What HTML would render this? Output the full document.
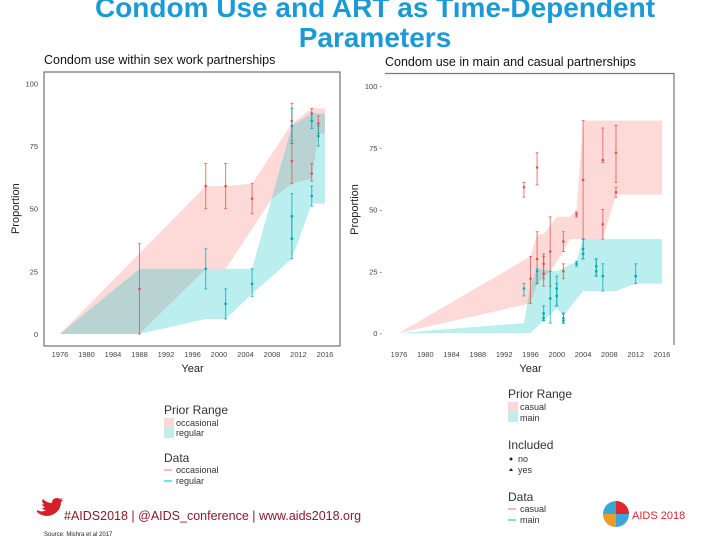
<!DOCTYPE html>
<html><head><meta charset="utf-8"><style>
body{margin:0;width:720px;height:540px;overflow:hidden;background:#fff;font-family:"Liberation Sans",sans-serif}
svg{position:absolute;left:0;top:0}
</style></head><body>
<svg id="s" width="720" height="540">
<text x="375" y="17" text-anchor="middle" font-size="28" font-weight="bold" fill="#1b9ad6">Condom Use and ART as Time-Dependent</text>
<text x="375" y="47" text-anchor="middle" font-size="28" font-weight="bold" fill="#1b9ad6">Parameters</text>
<text x="44" y="64" font-size="12.5" fill="#111">Condom use within sex work partnerships</text>
<text x="385" y="66" font-size="12.5" fill="#111">Condom use in main and casual partnerships</text>
<g id="L"></g>
<g id="R"></g>
<g font-size="9" fill="#333">
<text x="164" y="414" font-size="12">Prior Range</text>
<rect x="164" y="418" width="10" height="10" fill="#fadad8"/><text x="176" y="426">occasional</text>
<rect x="164" y="428" width="10" height="10" fill="#c2ecec"/><text x="176" y="436">regular</text>
<text x="164" y="462" font-size="12">Data</text>
<line x1="164" y1="470" x2="172" y2="470" stroke="#F8766D"/><text x="176" y="473">occasional</text>
<line x1="164" y1="481" x2="172" y2="481" stroke="#00BFC4"/><text x="176" y="484">regular</text>
</g>
<g font-size="9" fill="#333">
<text x="508" y="398" font-size="12">Prior Range</text>
<rect x="508" y="402" width="10" height="10" fill="#fadad8"/><text x="520" y="410">casual</text>
<rect x="508" y="412" width="10" height="10" fill="#c2ecec"/><text x="520" y="421">main</text>
<text x="508" y="449" font-size="12">Included</text>
<circle cx="511" cy="459" r="1.5" fill="#222"/><text x="518" y="462">no</text>
<path d="M509 471 L511 468 L513 471Z" fill="#222"/><text x="518" y="473">yes</text>
<text x="508" y="501" font-size="12">Data</text>
<line x1="508" y1="509" x2="516" y2="509" stroke="#F8766D"/><text x="520" y="512">casual</text>
<line x1="508" y1="520" x2="516" y2="520" stroke="#00BFC4"/><text x="520" y="523">main</text>
</g>
<path d="M37 510 q5 3 9 0 q-3 0 -4 -2 q2 0 3 -1 q-3 -1 -3 -3 q1 1 2 0 q-3 -2 -1 -5 q4 4 9 4 q0 -5 5 -5 q2 0 3 1 l3 -1 l-2 2 l2 0 l-2 2 q0 9 -9 13 q-8 3 -15 -3z" fill="#d42027"/>
<text x="64" y="520" font-size="12.5" fill="#8b1a2b">#AIDS2018 | @AIDS_conference | www.aids2018.org</text>
<text x="44" y="536" font-size="6" fill="#222">Source: Mishra et al 2017</text>
<g>
<circle cx="616" cy="514" r="13" fill="#3aa7d8"/><path d="M616 501 a13 13 0 0 1 13 13 l-13 0z" fill="#e2262d"/><path d="M603 514 a13 13 0 0 0 13 13 l0 -13z" fill="#f19a2a"/>
<text x="632" y="519" font-size="11" fill="#d7262e">AIDS 2018</text></g>
</svg>
<script>
const NS="http://www.w3.org/2000/svg";
const ticksX=[1976,1980,1984,1988,1992,1996,2000,2004,2008,2012,2016];
const ticksY=[0,25,50,75,100];
// Left chart data
const lOccUpYears=[1976,1998,2001,2005,2011,2014,2016];
const lOccUpVals=[0,59,59,60,84,90,90];
const lOccLoYears=[1976,1988,1998,2001,2008,2011,2014,2015,2016];
const lOccLoVals=[0,0,26,26,54,60,62,80,80];
const lRegUpYears=[1976,1988,2005,2011,2014,2016];
const lRegUpVals=[0,26,26,83,88,88];
const lRegLoYears=[1976,1988,1998,2001,2005,2011,2014,2016];
const lRegLoVals=[0,0,6,6,16,30,52,52];
const lOccPtYears=[1988,1998,2001,2005,2011,2011,2014,2014,2015];
const lOccPtVals=[18,59,59,54,85,69,88,64,84];
const lOccPtLo=[0,50,50,48,77,60,85,61,80];
const lOccPtHi=[36,68,68,60,92,76,90,68,87];
const lRegPtYears=[1998,2001,2005,2011,2011,2011,2014,2014,2015];
const lRegPtVals=[26,12,20,47,38,83,85,55,79];
const lRegPtLo=[18,6,15,38,30,76,82,51,75];
const lRegPtHi=[34,18,26,56,47,90,88,59,83];
// Right chart data
const rCasUpYears=[1976,1996,1997,1998,2000,2002,2003,2004,2016];
const rCasUpVals=[0,31,40,40,47,47,50,86,86];
const rCasLoYears=[1976,1996,1997,1999,2001,2002,2007,2009,2016];
const rCasLoVals=[0,12,20,25,33,38,38,56,56];
const rMainUpYears=[1976,1995,1996,1997,2000,2003,2004,2016];
const rMainUpVals=[0,4,20,26,25,29,38,38];
const rMainLoYears=[1976,1995,1996,2000,2001,2004,2009,2012,2016];
const rMainLoVals=[0,0,0,10,7,17,17,20,20];
const rCasPtYears=[1995,1997,1996,1997,1998,1998,1999,2001,2001,2003,2004,2007,2007,2009,2009];
const rCasPtVals=[59,67,22,30,28,24,33,37,25,48,62,70,44,73,57];
const rCasPtLo=[55,60,12,20,22,19,19,33,22,47,38,69,38,61,55];
const rCasPtHi=[61,73,31,41,32,31,47,41,28,49,86,83,50,84,59];
const rMainPtYears=[1995,1997,1998,1998,1999,2000,2000,2001,2001,2003,2004,2004,2006,2006,2007,2012];
const rMainPtVals=[18,25,8,6,14,18,15,5,6,28,34,32,27,25,23,23];
const rMainPtLo=[15,20,5,5,4,11,11,4,4,27,30,30,23,23,17,20];
const rMainPtHi=[20,26,11,8,25,23,20,8,8,29,38,38,30,30,28,28];

function mk(tag,attrs,parent){const e=document.createElementNS(NS,tag);for(const k in attrs)e.setAttribute(k,attrs[k]);parent.appendChild(e);return e;}
function chart(g,cfg){
  const sx=v=>cfg.x0+(v-1976)*(cfg.x1-cfg.x0)/40;
  const sy=v=>cfg.y0-v*(cfg.y0-cfg.y100)/100;
  cfg.frame(g);
  function band(uy,uv,ly,lv,color,name){
    let d="M"+uy.map((y,i)=>sx(y)+" "+sy(uv[i])).join(" L");
    for(let i=ly.length-1;i>=0;i--)d+=" L"+sx(ly[i])+" "+sy(lv[i]);
    const p=mk("path",{d:d+"Z",fill:color,"fill-opacity":0.27},g);
    
    
  }
  band(cfg.b1[0],cfg.b1[1],cfg.b1[2],cfg.b1[3],"#F8766D",cfg.b1n);
  band(cfg.b2[0],cfg.b2[1],cfg.b2[2],cfg.b2[3],"#00BFC4",cfg.b2n);
  function pts(ys,vs,lo,hi,color,name){
    ys.forEach((y,i)=>{
      const x=sx(y);
      const e=mk("g",{stroke:color,"stroke-width":1,"stroke-opacity":0.75},g);
      
      
      mk("line",{x1:x,x2:x,y1:sy(lo[i]),y2:sy(hi[i])},e);
      mk("line",{x1:x-1.5,x2:x+1.5,y1:sy(lo[i]),y2:sy(lo[i])},e);
      mk("line",{x1:x-1.5,x2:x+1.5,y1:sy(hi[i]),y2:sy(hi[i])},e);
      mk("circle",{cx:x,cy:sy(vs[i]),r:1.3,fill:color,stroke:"none"},e);
    });
  }
  pts(...cfg.p1,"#d9534f",cfg.p1n);
  pts(...cfg.p2,"#00a8ad",cfg.p2n);
  ticksX.forEach(t=>{
    const e=mk("text",{x:sx(t),y:cfg.ty,"text-anchor":"middle","font-size":7.5,fill:"#444"},g);e.textContent=t;
    
    
  });
  ticksY.forEach(t=>{
    const e=mk("text",{x:cfg.ylx,y:sy(t)+3,"text-anchor":"end","font-size":7.5,fill:"#444"},g);e.textContent=t+cfg.ysuf;
    
    
  });
  const xt=mk("text",{x:(cfg.x0+cfg.x1)/2,y:cfg.ty+15,"text-anchor":"middle","font-size":11,fill:"#222"},g);xt.textContent="Year";
  
  
  const yt=mk("text",{x:0,y:0,"text-anchor":"middle","font-size":11,fill:"#222",transform:`translate(${cfg.yax},${(cfg.y0+cfg.y100)/2}) rotate(-90)`},g);yt.textContent="Proportion";
  
  
}
chart(document.getElementById("L"),{x0:60,x1:325,y0:334,y100:83.3,ty:357,ylx:38,ysuf:"",yax:19,
  frame:g=>{const r=mk("rect",{x:44,y:72,width:296,height:274,fill:"none",stroke:"#555","stroke-width":1},g);
    },
  b1:[lOccUpYears,lOccUpVals,lOccLoYears,lOccLoVals],b1n:"band-occasional",
  b2:[lRegUpYears,lRegUpVals,lRegLoYears,lRegLoVals],b2n:"band-regular",
  p1:[lOccPtYears,lOccPtVals,lOccPtLo,lOccPtHi],p1n:"point-occasional",
  p2:[lRegPtYears,lRegPtVals,lRegPtLo,lRegPtHi],p2n:"point-regular"});
chart(document.getElementById("R"),{x0:399,x1:662,y0:333,y100:86,ty:357,ylx:382,ysuf:" -",yax:358,
  frame:g=>{const p=mk("path",{d:"M385 73.5 H674 V345",fill:"none",stroke:"#777","stroke-width":1.2},g);
    },
  b1:[rCasUpYears,rCasUpVals,rCasLoYears,rCasLoVals],b1n:"band-casual",
  b2:[rMainUpYears,rMainUpVals,rMainLoYears,rMainLoVals],b2n:"band-main",
  p1:[rCasPtYears,rCasPtVals,rCasPtLo,rCasPtHi],p1n:"point-casual",
  p2:[rMainPtYears,rMainPtVals,rMainPtLo,rMainPtHi],p2n:"point-main"});
</script>
</body></html>
